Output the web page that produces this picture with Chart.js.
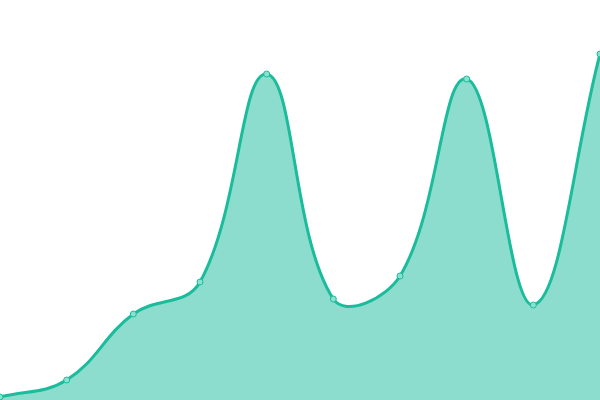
<!DOCTYPE html>
<html>
<head>
<meta charset="utf-8">
<script src="https://cdn.jsdelivr.net/npm/chart.js@4"></script>
<style>
  html, body { margin: 0; padding: 0; background: #ffffff; }
  #wrap { width: 600px; height: 400px; }
</style>
</head>
<body>
<div id="wrap"><canvas id="chart1"></canvas></div>
<script>
// Categorías y valores
const labels = ["1", "2", "3", "4", "5", "6", "7", "8", "9", "10"];
const values = [0.75, 5, 21.5, 29.5, 81.5, 25.25, 31, 80.25, 23.75, 86.5];

var ctx1 = document.getElementById("chart1").getContext("2d");
var chart1 = new Chart(ctx1, {
  type: "line",
  data: {
    labels: labels,
    datasets: [
      {
        data: values,
        borderColor: "#1abc9c",
        backgroundColor: "rgba(26, 188, 156, 0.5)",
        borderWidth: 3,
        fill: "origin",
        tension: 0.4,
        pointRadius: 3,
        pointBorderWidth: 1,
        pointBackgroundColor: "#8ce0cf",
        pointBorderColor: "#1abc9c",
        clip: false,
      },
    ],
  },
  options: {
    responsive: true,
    maintainAspectRatio: false,
    animation: false,
    layout: { padding: 0, autoPadding: false },
    plugins: {
      legend: { display: false },
      tooltip: { enabled: false },
    },
    scales: {
      x: { display: false, offset: false },
      y: { display: false, min: 0, max: 100 },
    },
  },
});
</script>
</body>
</html>
